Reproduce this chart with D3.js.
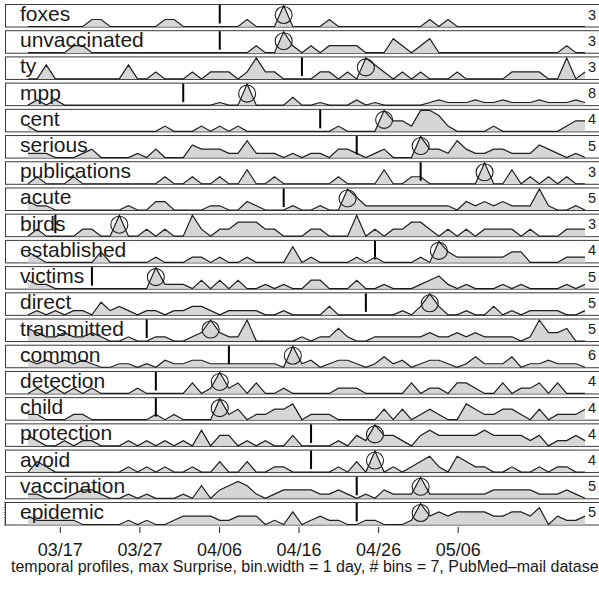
<!DOCTYPE html>
<html>
<head>
<meta charset="utf-8">
<script src="https://cdn.jsdelivr.net/npm/d3@7"></script>
<style>
  body { margin: 0; background: #fff; }
  svg { display: block; }
  text { font-family: "Liberation Sans", Arial, Helvetica, sans-serif; fill: #1a1a1a; }
</style>
</head>
<body>
<svg id="chart" width="599" height="592"></svg>
<script>
// Daily-binned term counts, one series per term (62 bins, 2009-03-13 .. 2009-05-22)
const foxes        = [0,0,0,0,0,0,0,1,1,0, 0,0,0,0,0,1,1,0,0,0, 0,0,0,0,1,0,0,0,3,0, 0,0,0,1,0,0,0,0,0,0, 0,0,0,0,1,0,1,0,0,0, 0,0,0,0,0,0,0,0,0,0, 0,0];
const unvaccinated = [0,0,0,0,0,1,1,0,0,0, 0,0,0,0,0,0,0,0,0,0, 0,0,0,0,0,1,0,0,3,1, 0,1,0,1,1,1,1,0,0,0, 2,1,0,1,2,0,0,0,0,0, 0,0,0,0,0,0,0,0,0,1, 0,0];
const ty           = [0,0,2,0,0,0,0,0,0,0, 0,2,0,0,1,0,0,0,1,0, 1,1,1,0,1,3,1,1,0,0, 0,0,1,1,0,1,0,3,2,1, 0,1,0,1,0,0,0,1,0,0, 0,0,0,1,1,1,1,0,0,3, 0,1];
const mpp          = [0,2,0,2,0,0,0,0,0,0, 0,0,0,0,0,0,0,0,0,0, 0,1,0,0,8,0,0,0,0,3, 0,0,1,0,0,0,2,0,1,0, 0,0,0,0,1,2,1,1,1,2, 1,1,2,1,1,1,2,1,1,1, 2,1];
const cent         = [1,0,0,0,0,0,0,0,0,0, 0,0,0,0,0,1,0,0,0,1, 0,1,0,1,0,0,0,0,0,0, 0,0,0,0,1,0,0,0,0,4, 2,2,1,4,4,3,1,0,0,0, 0,1,0,0,0,0,0,0,0,1, 2,2];
const serious      = [1,1,1,0,0,0,1,2,0,0, 0,0,1,0,2,0,0,0,3,2, 2,2,1,1,4,1,1,1,0,1, 0,1,1,0,2,2,1,0,1,2, 0,0,0,5,2,2,1,4,2,1, 1,2,2,1,1,1,3,2,1,0, 1,0];
const publications = [0,1,0,0,0,1,0,0,0,0, 0,0,0,0,0,1,0,0,1,0, 0,1,0,0,2,0,0,1,0,0, 0,0,0,0,1,0,0,0,0,2, 0,0,1,1,0,0,0,0,0,0, 3,0,0,2,0,1,0,1,0,1, 0,0];
const acute        = [2,1,1,0,0,0,0,0,0,0, 0,1,0,0,2,2,0,0,0,0, 1,1,0,0,2,1,0,0,0,1, 0,0,1,0,0,5,3,1,1,1, 1,1,1,1,1,1,1,0,2,1, 2,1,2,1,1,1,5,1,0,0, 1,0];
const birds        = [0,1,0,0,0,0,1,1,0,0, 3,0,0,1,0,1,0,0,3,1, 0,1,1,2,2,2,1,1,0,0, 0,1,1,0,0,0,3,0,1,0, 1,1,2,2,1,0,1,0,1,0, 1,1,1,1,0,1,0,0,0,1, 1,1];
const established  = [2,1,0,0,0,0,0,0,2,0, 0,0,0,0,1,0,0,0,1,1, 0,1,0,0,1,0,0,0,0,3, 0,1,0,0,0,0,1,0,1,0, 0,0,0,1,0,4,2,1,1,1, 1,1,1,2,2,0,0,0,0,1, 1,1];
const victims      = [2,1,1,0,0,0,0,0,0,0, 0,0,0,0,5,1,1,1,0,2, 0,2,0,2,0,0,1,0,1,0, 0,2,2,0,0,0,2,0,0,1, 0,0,0,1,2,3,1,0,1,0, 0,0,1,0,1,0,0,0,0,1, 0,1];
const direct       = [0,1,0,1,0,1,1,0,3,1, 2,1,0,1,1,0,1,1,2,2, 1,0,1,1,1,1,0,0,1,0, 0,0,0,2,0,0,0,0,0,0, 0,1,0,2,5,2,0,0,1,0, 0,2,0,1,0,1,1,1,1,0, 0,1];
const transmitted  = [3,2,1,1,2,1,1,2,1,0, 0,1,0,0,1,1,0,0,1,2, 5,2,1,1,5,0,0,0,0,0, 1,0,1,1,3,1,0,0,1,1, 1,1,1,1,2,1,1,2,1,2, 1,1,1,1,0,1,5,2,2,3, 0,0];
const common       = [2,1,2,1,2,1,2,1,0,0, 1,1,0,1,0,2,1,1,2,2, 1,1,1,1,1,1,1,1,0,6, 1,2,0,1,2,2,1,0,1,3, 1,2,0,1,2,2,1,0,1,3, 1,1,1,3,0,1,1,2,1,1, 1,0];
const detection    = [0,1,0,1,0,1,0,1,0,0, 0,0,1,0,0,0,0,0,2,0, 1,4,1,2,0,2,0,0,1,0, 0,0,0,0,1,1,1,0,0,0, 0,0,2,0,1,1,0,2,2,1, 0,0,2,0,1,1,2,0,2,0, 0,0];
const child        = [1,1,0,0,0,1,1,0,0,0, 0,0,0,0,1,0,1,0,0,0, 0,4,1,2,0,1,1,2,2,3, 0,1,1,1,0,0,0,0,0,2, 0,2,0,1,2,1,0,0,3,2, 1,1,2,2,1,0,2,0,1,1, 1,2];
const protection   = [2,1,0,0,1,0,1,1,0,0, 0,1,0,1,0,1,0,1,0,3, 0,2,2,0,1,0,1,0,0,2, 0,0,0,0,1,0,2,1,4,2, 2,1,0,2,3,2,2,2,2,2, 3,2,2,2,2,1,2,0,1,1, 2,1];
const avoid        = [0,2,1,0,0,0,0,0,0,0, 0,1,0,1,0,1,0,0,1,0, 0,2,0,0,2,0,0,1,1,0, 0,0,0,0,1,0,2,0,4,0, 1,0,1,2,3,1,0,3,2,1, 1,0,0,1,0,0,1,0,1,1, 0,0];
const vaccination  = [1,1,0,0,0,1,2,2,1,0, 0,1,0,1,0,0,0,1,0,3, 0,2,3,4,3,1,0,1,2,2, 2,2,1,1,2,1,0,1,0,2, 1,1,1,5,1,1,1,1,1,1, 1,2,2,2,2,2,1,1,1,2, 1,0];
const epidemic     = [2,1,1,1,1,1,0,0,0,0, 0,1,0,1,0,0,1,2,2,2, 2,1,1,2,2,2,0,1,0,3, 0,1,2,1,1,0,0,1,1,0, 0,0,1,5,2,3,2,3,3,3, 3,2,2,3,3,2,4,0,2,1, 1,2];

const terms = ["foxes", "unvaccinated", "ty", "mpp", "cent", "serious", "publications",
  "acute", "birds", "established", "victims", "direct", "transmitted", "common",
  "detection", "child", "protection", "avoid", "vaccination", "epidemic"];
const series = [foxes, unvaccinated, ty, mpp, cent, serious, publications, acute, birds,
  established, victims, direct, transmitted, common, detection, child, protection, avoid,
  vaccination, epidemic];

// Bin of the reference marker (vertical bar) and of the max-surprise bin (circle)
const markerBin   = [21, 21, 30, 17, 32, 36, 43, 28, 3, 38, 7, 37, 13, 22, 14, 14, 31, 31, 36, 36];
const surpriseBin = [28, 28, 37, 24, 39, 43, 50, 35, 10, 45, 14, 44, 20, 29, 21, 21, 38, 38, 43, 43];

const firstDay = new Date(2009, 2, 13);
const lastDay  = new Date(2009, 4, 22);
const tickDates = [new Date(2009, 2, 17), new Date(2009, 2, 27), new Date(2009, 3, 6),
  new Date(2009, 3, 16), new Date(2009, 3, 26), new Date(2009, 4, 6)];
const caption = "temporal profiles, max Surprise, bin.width = 1 day, # bins = 7, PubMed\u2013mail dataset";

const svg = d3.select("#chart");
const W = 599;

const xTime = d3.scaleTime().domain([firstDay, lastDay]).range([28, 585]);
const nBins = foxes.length;
const xBin = d3.scaleLinear().domain([0, nBins - 1]).range(xTime.range());

const row = d3.scaleBand().domain(terms).range([4, 525.5]).paddingInner(0.103).paddingOuter(0);
const H = row.bandwidth();

terms.forEach((term, i) => {
  const vals = series[i];
  const top = row(term);
  const bottom = top + H;
  const vmax = d3.max(vals);
  const y = d3.scaleLinear().domain([0, vmax]).range([bottom - 1, top + 1.5]);
  const g = svg.append("g");

  g.append("rect")
    .attr("x", 5.5).attr("y", top + 0.5)
    .attr("width", W + 10).attr("height", H - 1)
    .attr("fill", "#fff").attr("stroke", "#3a3a3a").attr("stroke-width", 1);

  const area = d3.area().x((d, k) => xBin(k)).y0(y(0)).y1(d => y(d));
  const line = d3.line().x((d, k) => xBin(k)).y(d => y(d));

  g.append("path").attr("d", area(vals)).attr("fill", "#d6d6d6");
  g.append("path").attr("d", line(vals))
    .attr("fill", "none").attr("stroke", "#1e1e1e").attr("stroke-width", 1.2)
    .attr("stroke-linejoin", "miter");

  g.append("text")
    .attr("x", 20).attr("y", top + 17)
    .attr("font-size", 21)
    .text(term);

  g.append("line")
    .attr("x1", xBin(markerBin[i])).attr("x2", xBin(markerBin[i]))
    .attr("y1", top + 1).attr("y2", bottom - 4)
    .attr("stroke", "#000").attr("stroke-width", 2);

  g.append("circle")
    .attr("cx", xBin(surpriseBin[i])).attr("cy", top + 11)
    .attr("r", 8.5)
    .attr("fill", "none").attr("stroke", "#1e1e1e").attr("stroke-width", 1.1);

  g.append("text")
    .attr("x", 588).attr("y", top + 15.5)
    .attr("font-size", 14.5)
    .text(vmax);
});

// dotted left edge of the last panel
const lastTop = row(terms[terms.length - 1]);
svg.append("line")
  .attr("x1", 4.5).attr("x2", 4.5)
  .attr("y1", lastTop).attr("y2", lastTop + H)
  .attr("stroke", "#555").attr("stroke-width", 1).attr("stroke-dasharray", "1,1.5");

const axis = d3.axisBottom(xTime)
  .tickValues(tickDates)
  .tickFormat(d3.timeFormat("%m/%d"))
  .tickSize(6)
  .tickPadding(10);

const ax = svg.append("g").attr("transform", "translate(0,527)").call(axis);
ax.select(".domain").remove();
ax.selectAll(".tick line").attr("stroke", "#222");
ax.selectAll(".tick text")
  .attr("font-size", 18)
  .attr("font-family", "\"Liberation Sans\", Arial, Helvetica, sans-serif")
  .attr("fill", "#1a1a1a");

svg.append("text")
  .attr("x", 11).attr("y", 572)
  .attr("font-size", 16)
  .text(caption);
</script>
</body>
</html>
